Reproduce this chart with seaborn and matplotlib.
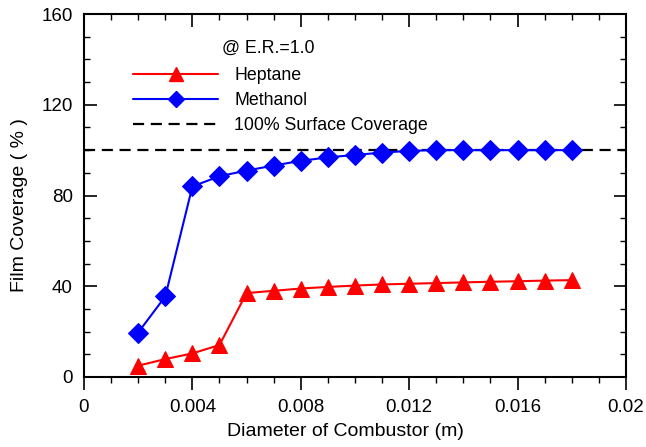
import numpy as np
import pandas as pd
import matplotlib
matplotlib.use("Agg")
import matplotlib.pyplot as plt
import seaborn as sns
from matplotlib.lines import Line2D
from matplotlib.ticker import MultipleLocator, FuncFormatter

diameter = [0.002, 0.003, 0.004, 0.005, 0.006, 0.007, 0.008, 0.009, 0.010,
            0.011, 0.012, 0.013, 0.014, 0.015, 0.016, 0.017, 0.018]
heptane = [5.0, 7.9, 10.4, 14.1, 37.0, 38.0, 39.0, 39.7, 40.3,
           40.8, 41.1, 41.4, 41.7, 42.0, 42.2, 42.5, 42.7]
methanol = [19.6, 35.5, 84.0, 88.5, 91.0, 93.2, 95.3, 96.8, 97.9,
            98.9, 99.7, 100.0, 100.0, 100.0, 100.0, 100.0, 100.0]
series_names = ["Heptane", "Methanol"]
full_coverage = 100
legend_title = "@ E.R.=1.0"
ref_label = "100% Surface Coverage"

df = pd.DataFrame({
    "d": diameter * 2,
    "cov": heptane + methanol,
    "fuel": [series_names[0]] * len(diameter) + [series_names[1]] * len(diameter),
})

sns.set_theme(style="white")
plt.rcParams["font.family"] = ["Liberation Sans", "DejaVu Sans"]
plt.rcParams["text.color"] = "black"
plt.rcParams["axes.labelcolor"] = "black"
plt.rcParams["xtick.color"] = "black"
plt.rcParams["ytick.color"] = "black"

fig = plt.figure(figsize=(6.46, 4.47), dpi=100)
ax = fig.add_axes([0.130, 0.1566, 0.839, 0.812])

colors = {"Heptane": "#ff0000", "Methanol": "#0000ff"}
markers = {"Heptane": "^", "Methanol": "D"}
sizes = {"Heptane": 12, "Methanol": 10}
for name in series_names:
    sub = df[df["fuel"] == name]
    sns.lineplot(data=sub, x="d", y="cov", ax=ax, color=colors[name],
                 marker=markers[name], markersize=sizes[name],
                 markeredgecolor=colors[name], linewidth=1.5, legend=False)

ax.axhline(full_coverage, color="black", linestyle=(0, (5, 3)), linewidth=1.6, zorder=1)

ax.set_xlim(0, 0.02)
ax.set_ylim(0, 160)
ax.xaxis.set_major_locator(MultipleLocator(0.004))
ax.xaxis.set_minor_locator(MultipleLocator(0.001))
ax.yaxis.set_major_locator(MultipleLocator(40))
ax.yaxis.set_minor_locator(MultipleLocator(10))
ax.xaxis.set_major_formatter(FuncFormatter(lambda v, p: "0" if abs(v) < 1e-12 else ("%g" % v)))

ax.tick_params(axis="x", which="both", direction="out", bottom=True, top=False,
               labelsize=13.5, colors="black")
ax.tick_params(axis="x", which="major", length=9, width=1.2, pad=7)
ax.tick_params(axis="x", which="minor", length=4.5, width=1.0)
ax.tick_params(axis="y", which="both", direction="in", left=True, right=True,
               labelsize=13.5, colors="black")
ax.tick_params(axis="y", which="major", length=9, width=1.2, pad=8)
ax.tick_params(axis="y", which="minor", length=4.5, width=1.0)

sec = ax.secondary_xaxis("top")
sec.xaxis.set_major_locator(MultipleLocator(0.004))
sec.xaxis.set_minor_locator(MultipleLocator(0.001))
sec.tick_params(axis="x", which="both", direction="in", labeltop=False, colors="black")
sec.tick_params(axis="x", which="major", length=9, width=1.2)
sec.tick_params(axis="x", which="minor", length=4.5, width=1.0)
sec.spines["top"].set_visible(False)

for s in ax.spines.values():
    s.set_visible(True)
    s.set_color("black")
    s.set_linewidth(1.5)

ax.set_xlabel("Diameter of Combustor (m)", fontsize=14)
ax.set_ylabel("Film Coverage ( % )", fontsize=14)
ax.xaxis.set_label_coords(0.482, -0.128)
ax.yaxis.set_label_coords(-0.104, 0.474)

handles = [
    Line2D([], [], color=colors["Heptane"], marker="^", markersize=10, linewidth=1.5),
    Line2D([], [], color=colors["Methanol"], marker="D", markersize=8, linewidth=1.5),
    Line2D([], [], color="black", linestyle=(0, (5, 3)), linewidth=1.6),
]
leg = ax.legend(handles, series_names + [ref_label],
                loc="upper left", bbox_to_anchor=(0.0904, 0.853), frameon=False,
                fontsize=12.8, handlelength=4.8, borderpad=0,
                handletextpad=0.9, labelspacing=0.44, borderaxespad=0)
for t in leg.get_texts():
    t.set_color("black")
ax.text(0.2546, 0.906, legend_title, transform=ax.transAxes, fontsize=12.8,
        ha="left", va="center", color="black")

fig.savefig("out.png", dpi=100)
